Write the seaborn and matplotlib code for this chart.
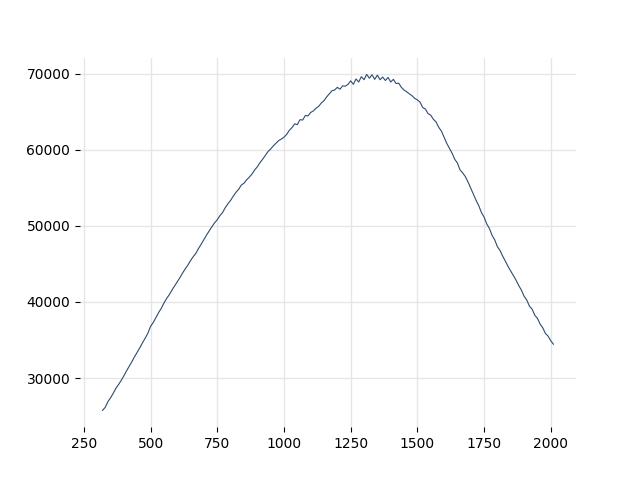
import numpy as np
import pandas as pd
import matplotlib
matplotlib.use("Agg")
import matplotlib.pyplot as plt
import seaborn as sns

# x positions (step 10) and values
x_start, x_step = 320, 10
values = [
    25750, 26150, 26900, 27400, 28000, 28650, 29150, 29700, 30300, 30950,
    31550, 32150, 32800, 33400, 34000, 34650, 35250, 35900, 36800, 37300,
    37950, 38600, 39150, 39850, 40450, 40950, 41550, 42100, 42650, 43200,
    43800, 44350, 44850, 45450, 45950, 46400, 47050, 47600, 48200, 48800,
    49350, 49900, 50400, 50800, 51350, 51750, 52400, 52900, 53350, 53900,
    54400, 54800, 55350, 55600, 56050, 56400, 56800, 57350, 57750, 58300,
    58750, 59250, 59750, 60100, 60500, 60850, 61200, 61400, 61650, 62000,
    62550, 62900, 63400, 63300, 63950, 63900, 64500, 64450, 64900, 65100,
    65450, 65700, 66150, 66450, 66950, 67350, 67750, 67850, 68200, 67950,
    68400, 68350, 68600, 69050, 68600, 69300, 68900, 69600, 69200, 69900,
    69400, 69850, 69250, 69800, 69200, 69550, 69100, 69500, 68900, 69250,
    68700, 68750, 68200, 67850, 67600, 67350, 67100, 66750, 66550, 66250,
    65550, 65350, 64750, 64550, 64000, 63650, 62950, 62450, 61650, 60850,
    60200, 59550, 58750, 58250, 57350, 56950, 56450, 55750, 54950, 54150,
    53350, 52650, 51750, 51150, 50250, 49650, 48750, 48150, 47250, 46750,
    46000, 45350, 44650, 44050, 43450, 42850, 42150, 41550, 40750, 40250,
    39450, 39050, 38250, 37850, 37100, 36600, 35850, 35500, 34900, 34450,
]
x_vals = [x_start + i * x_step for i in range(len(values))]

df = pd.DataFrame({"x": x_vals, "y": values})

fig, ax = plt.subplots(figsize=(6.4, 4.8), dpi=100)
sns.lineplot(data=df, x="x", y="y", ax=ax, color="#2f4b6e", linewidth=0.8)

ax.grid(True, color="#e6e6e6", linewidth=1)
ax.set_axisbelow(True)
for s in ax.spines.values():
    s.set_visible(False)
ax.set_xlabel("")
ax.set_ylabel("")
ax.set_xticks([250, 500, 750, 1000, 1250, 1500, 1750, 2000])

fig.savefig("out.png", dpi=100)
